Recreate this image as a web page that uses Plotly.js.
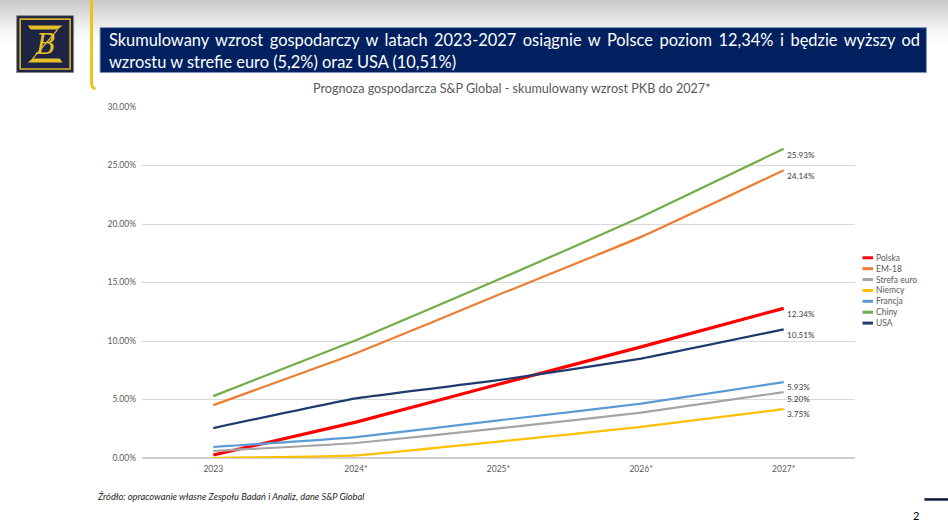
<!DOCTYPE html>
<html>
<head>
<meta charset="utf-8">
<script src="https://cdn.plot.ly/plotly-3.0.1.min.js"></script>
<style>
  html, body { margin: 0; padding: 0; background: #fff; }
  #wrap { width: 948px; height: 528px; background: linear-gradient(to bottom, #c8c8c8 0px, #e4e4e4 18px, #f6f6f6 32px, #ffffff 44px); }
  #chart { width: 948px; height: 528px; }
</style>
</head>
<body>
<div id="wrap"><div id="chart"></div></div>
<script>
// ---- data ----
var categories = ['2023', '2024*', '2025*', '2026*', '2027*'];
var seriesNames = ['Polska', 'EM-18', 'Strefa euro', 'Niemcy', 'Francja', 'Chiny', 'USA'];
var polska     = [0.26, 3.07, 6.30, 9.50, 12.79];
var em18       = [4.52, 8.95, 13.95, 18.90, 24.60];
var strefaEuro = [0.60, 1.28, 2.53, 3.88, 5.63];
var niemcy     = [0.00, 0.22, 1.40, 2.66, 4.18];
var francja    = [0.94, 1.79, 3.22, 4.64, 6.48];
var chiny      = [5.29, 10.06, 15.25, 20.60, 26.43];
var usa        = [2.56, 5.10, 6.65, 8.50, 11.00];
var endLabels  = ['25.93%', '24.14%', '12.34%', '10.51%', '5.93%', '5.20%', '3.75%'];
var endLabelValues = [25.93, 24.14, 12.34, 10.51, 5.93, 5.20, 3.75];
var yTicks = [0, 5, 10, 15, 20, 25, 30];
var headerLine1 = 'Skumulowany wzrost gospodarczy w latach 2023-2027 osiągnie w Polsce poziom 12,34% i będzie wyższy od';
var headerLine2 = 'wzrostu w strefie euro (5,2%) oraz USA (10,51%)';
var chartTitle = 'Prognoza gospodarcza S&P Global - skumulowany wzrost PKB do 2027*';
var sourceText = 'Źródło: opracowanie własne Zespołu Badań i Analiz, dane S&P Global';
var pageNumber = '2';

// ---- styles ----
var allSeries = [polska, em18, strefaEuro, niemcy, francja, chiny, usa];
var colors = ['#FF0000', '#ED7D31', '#A5A5A5', '#FFC000', '#5B9BD5', '#70AD47', '#1F3A6E'];
var widths = [3.2, 2.2, 2.2, 2.2, 2.2, 2.2, 2.2];
var labelShifts = [0, 0, 0, 0, 1.5, -1.5, 0];

var W = 948, H = 528;
var mL = 141.5, mR = W - 855.5, mT = 106.5, mB = H - 458;
function px(x) { return (x - mL) / (W - mL - mR); }
function py(y) { return (H - mB - y) / (H - mT - mB); }

var FONT = 'Lato, "Open Sans", sans-serif';
var GREY = '#595959';

var traces = allSeries.map(function (vals, i) {
  return {
    type: 'scatter', mode: 'lines', name: seriesNames[i],
    x: categories, y: vals,
    line: { color: colors[i], width: widths[i], shape: 'spline', smoothing: 0.35 },
    showlegend: false, hoverinfo: 'skip', cliponaxis: false
  };
});

var shapes = [];
var annotations = [];

// header: yellow vertical stripe
shapes.push({ type: 'path', xref: 'paper', yref: 'paper',
  path: 'M ' + px(91) + ' ' + py(-2) + ' L ' + px(91) + ' ' + py(82) + ' Q ' + px(91) + ' ' + py(88) + ' ' + px(95) + ' ' + py(88),
  line: { color: '#E9C31F', width: 3 } });
// header: blue box
shapes.push({ type: 'rect', xref: 'paper', yref: 'paper',
  x0: px(99.5), x1: px(927), y0: py(27), y1: py(72),
  fillcolor: '#002060', line: { color: '#8090b8', width: 1 } });
// logo
shapes.push({ type: 'rect', xref: 'paper', yref: 'paper',
  x0: px(16), x1: px(73), y0: py(15), y1: py(72),
  fillcolor: '#1E2444', line: { color: '#8a8a8a', width: 1 } });
shapes.push({ type: 'rect', xref: 'paper', yref: 'paper',
  x0: px(19.5), x1: px(69.5), y0: py(18.5), y1: py(68.5),
  fillcolor: 'rgba(0,0,0,0)', line: { color: '#D9B526', width: 1.6 } });
shapes.push({ type: 'path', xref: 'paper', yref: 'paper',
  path: 'M ' + px(27) + ' ' + py(25) + ' L ' + px(62) + ' ' + py(25) + ' L ' + px(57) + ' ' + py(29) + ' L ' + px(30) + ' ' + py(29) + ' Z',
  fillcolor: '#E4C02A', line: { width: 0 } });
shapes.push({ type: 'path', xref: 'paper', yref: 'paper',
  path: 'M ' + px(27) + ' ' + py(62) + ' L ' + px(62) + ' ' + py(62) + ' L ' + px(59) + ' ' + py(58) + ' L ' + px(32) + ' ' + py(58) + ' Z',
  fillcolor: '#E4C02A', line: { width: 0 } });
shapes.push({ type: 'line', xref: 'paper', yref: 'paper',
  x0: px(57), y0: py(29), x1: px(32), y1: py(58), line: { color: '#E4C02A', width: 1.2 } });
annotations.push({ xref: 'paper', yref: 'paper', x: px(45), y: py(44), xanchor: 'center', yanchor: 'middle',
  text: '<i>B</i>', showarrow: false, font: { family: '"DejaVu Serif", serif', size: 27, color: '#E4C02A' } });

// header text
annotations.push({ xref: 'paper', yref: 'paper', x: px(106), y: py(38.5), xanchor: 'left', yanchor: 'middle',
  text: headerLine1, showarrow: false, font: { family: FONT, size: 16.4, color: '#ffffff' } });
annotations.push({ xref: 'paper', yref: 'paper', x: px(106), y: py(61), xanchor: 'left', yanchor: 'middle',
  text: headerLine2, showarrow: false, font: { family: FONT, size: 16.4, color: '#ffffff' } });

// chart title
annotations.push({ xref: 'paper', yref: 'paper', x: px(512), y: py(88), xanchor: 'center', yanchor: 'middle',
  text: chartTitle, showarrow: false, font: { family: FONT, size: 12.6, color: GREY } });

// end labels (placed at their stated values)
endLabels.forEach(function (t, i) {
  annotations.push({ xref: 'x', yref: 'y', x: categories[categories.length - 1], y: endLabelValues[i],
    xanchor: 'left', yanchor: 'middle', xshift: 1, yshift: labelShifts[i], text: t, showarrow: false,
    font: { family: FONT, size: 8.2, color: '#404040' } });
});

// custom legend
seriesNames.forEach(function (n, i) {
  var yy = 257.5 + i * 10.9;
  shapes.push({ type: 'line', xref: 'paper', yref: 'paper', x0: px(863), x1: px(873.5), y0: py(yy), y1: py(yy),
    line: { color: colors[i], width: 3 } });
  annotations.push({ xref: 'paper', yref: 'paper', x: px(875), y: py(yy), xanchor: 'left', yanchor: 'middle',
    text: n, showarrow: false, font: { family: FONT, size: 8.5, color: GREY } });
});

// footer
annotations.push({ xref: 'paper', yref: 'paper', x: px(94), y: py(497), xanchor: 'left', yanchor: 'middle',
  text: '<i>' + sourceText + '</i>', showarrow: false, font: { family: FONT, size: 9.3, color: '#262626' } });
annotations.push({ xref: 'paper', yref: 'paper', x: px(917), y: py(516), xanchor: 'center', yanchor: 'middle',
  text: pageNumber, showarrow: false, font: { family: FONT, size: 11, color: '#000000' } });
shapes.push({ type: 'line', xref: 'paper', yref: 'paper', x0: px(925), x1: px(949), y0: py(499.5), y1: py(499.5),
  line: { color: '#0E1A3A', width: 2.5 } });

var layout = {
  width: W, height: H,
  margin: { l: mL, r: mR, t: mT, b: mB, pad: 0 },
  paper_bgcolor: 'rgba(0,0,0,0)', plot_bgcolor: 'rgba(0,0,0,0)',
  showlegend: false,
  font: { family: FONT, color: GREY },
  xaxis: { type: 'category', range: [-0.5, categories.length - 0.5], showgrid: false, zeroline: false,
    showline: false, ticks: '', tickfont: { family: FONT, size: 8.5, color: GREY }, ticklabelstandoff: 4, fixedrange: true },
  yaxis: { range: [0, 30], tickvals: yTicks, ticktext: yTicks.map(function (v) { return v.toFixed(2) + '%'; }),
    showgrid: true, gridcolor: '#D9D9D9', gridwidth: 1, zeroline: true, zerolinecolor: '#D0D0D0', zerolinewidth: 1.5,
    showline: false, ticks: '', tickfont: { family: FONT, size: 8.5, color: GREY }, ticklabelstandoff: 5, fixedrange: true },
  shapes: shapes,
  annotations: annotations
};

Plotly.newPlot('chart', traces, layout, { staticPlot: true, displayModeBar: false }).then(function () {
  // justify first header line to the box width
  var texts = document.querySelectorAll('#chart .annotation text');
  texts.forEach(function (t) {
    if (t.textContent !== headerLine1) return;
    var target = 917 - 106;
    var len = t.getComputedTextLength();
    var spaces = (headerLine1.match(/ /g) || []).length;
    if (len < target && spaces > 0) {
      var b0 = t.getBBox();
      t.setAttribute('word-spacing', ((target - len) / spaces).toFixed(2));
      var b1 = t.getBBox();
      var dx = b0.x - b1.x;
      var cur = parseFloat(t.getAttribute('x') || '0');
      t.setAttribute('x', (cur + dx).toFixed(2));
    }
  });
});
</script>
</body>
</html>
